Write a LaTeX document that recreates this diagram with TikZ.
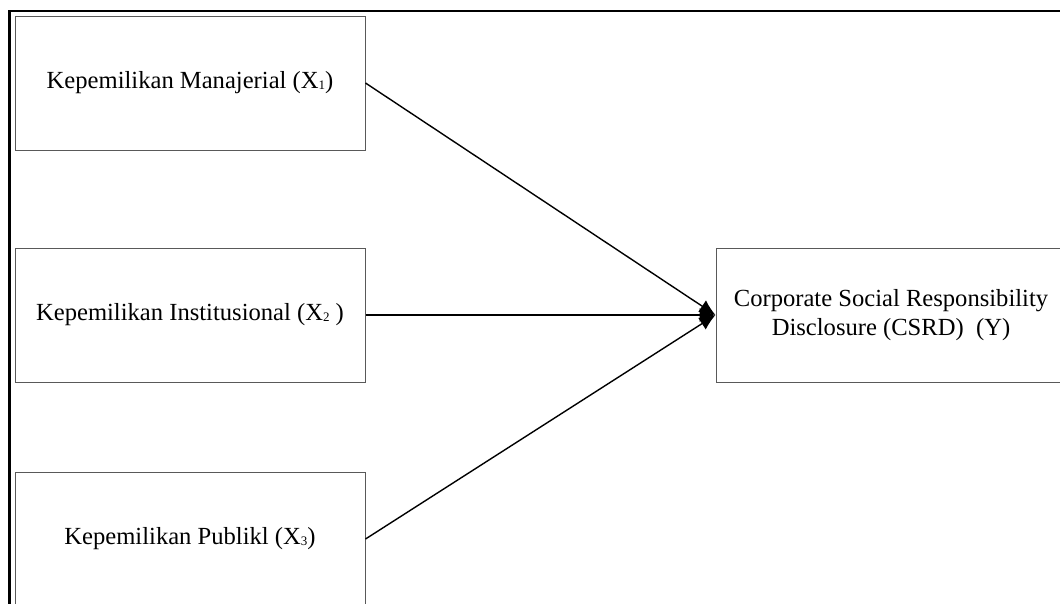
\documentclass[tikz,border=0pt]{standalone}
\usepackage{fontspec}
\setmainfont{Liberation Serif}
\usepackage{tikz}
\usetikzlibrary{arrows.meta,positioning}
\newcommand{\sub}[1]{\raisebox{-0.5pt}{\fontsize{13}{13}\selectfont #1}}
\tikzstyle{ownbox} = [rectangle, minimum width=350pt, minimum height=134pt, text centered, draw=black!65, line width=1pt, font=\fontsize{24.6}{29}\selectfont]
\tikzstyle{depbox} = [ownbox, align=center]
\tikzstyle{arrow} = [line width=1.4pt, -{Latex[length=16pt,width=14pt]}]

\begin{document}
\begin{tikzpicture}[x=1pt, y=1pt]
\useasboundingbox (0,0) rectangle (1060,-603);
\clip (0,0) rectangle (1060,-603);

% frame
\draw [line width=2.8pt] (9.5,-610) -- (9.5,-11) -- (1070,-11);

\node (own1) [ownbox] at (190,-83) {Kepemilikan Manajerial (X\sub{1})};
\node (own2) [ownbox, below=97pt of own1] {Kepemilikan Institusional (X\sub{2} )};
\node (own3) [ownbox, below=89pt of own2] {Kepemilikan Publikl (X\sub{3})};
\node (csrd) [depbox, right=350pt of own2] {Corporate Social Responsibility\\Disclosure (CSRD)\ \ (Y)};

\draw [arrow] (own1.east) -- (csrd.west);
\draw [arrow] (own2.east) -- (csrd.west);
\draw [arrow] (own3.east) -- (csrd.west);

\end{tikzpicture}
\end{document}
